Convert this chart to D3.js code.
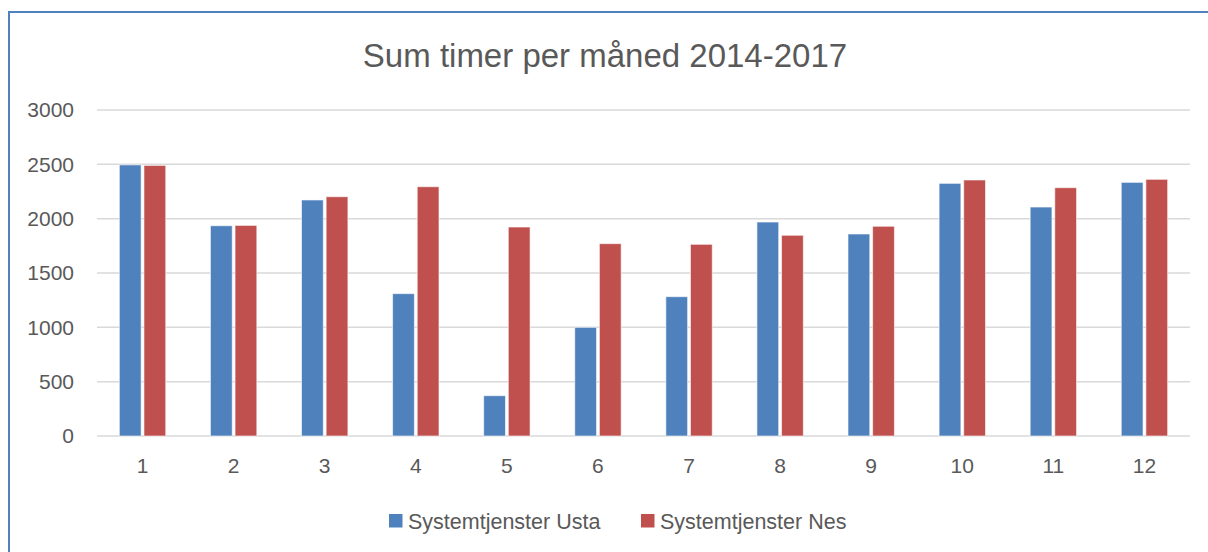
<!DOCTYPE html>
<html>
<head>
<meta charset="utf-8">
<script src="https://cdn.jsdelivr.net/npm/d3@7"></script>
<style>
  html, body { margin: 0; padding: 0; background: #fff; }
  svg { display: block; }
</style>
</head>
<body>
<div id="chart"></div>
<script>
// Data
const months = ["1", "2", "3", "4", "5", "6", "7", "8", "9", "10", "11", "12"];
const usta = [2495, 1935, 2172, 1310, 371, 1000, 1282, 1969, 1859, 2325, 2107, 2334];
const nes  = [2490, 1938, 2202, 2294, 1923, 1770, 1764, 1847, 1930, 2356, 2285, 2362];
const seriesNames = ["Systemtjenster Usta", "Systemtjenster Nes"];
const seriesColors = ["#4F81BD", "#C0504D"];
const yTicks = [0, 500, 1000, 1500, 2000, 2500, 3000];
const title = "Sum timer per måned 2014-2017";

const width = 1208;
const height = 552;
const font = "'Liberation Sans', Arial, sans-serif";
const textColor = "#595959";

const svg = d3.select("#chart").append("svg")
    .attr("width", width)
    .attr("height", height);

// outer frame (only left and top are visible in the picture)
svg.append("rect")
    .attr("x", 9).attr("y", 12)
    .attr("width", 1300).attr("height", 700)
    .attr("fill", "none")
    .attr("stroke", "#4F81BD")
    .attr("stroke-width", 2);

// ── Scales ──────────────────────────────────────────────
const x = d3.scaleBand()
    .domain(months)
    .range([97, 1190]);

const y = d3.scaleLinear()
    .domain([0, 3000])
    .range([436, 110]);

const sub = d3.scaleBand()
    .domain([0, 1])
    .range([-23.2, 23.2])
    .paddingInner(0.115);

// ── Grid ────────────────────────────────────────────────
svg.append("g")
    .selectAll("line")
    .data(yTicks)
    .join("line")
    .attr("x1", 97)
    .attr("x2", 1190)
    .attr("y1", d => y(d))
    .attr("y2", d => y(d))
    .attr("stroke", "#d9d9d9")
    .attr("stroke-width", 1.5);

// y labels
const yAxis = svg.append("g")
    .attr("transform", "translate(74,0)")
    .call(d3.axisLeft(y).tickValues(yTicks).tickFormat(d3.format("d")).tickSize(0).tickPadding(0));
yAxis.select(".domain").remove();
yAxis.selectAll("text")
    .attr("fill", textColor)
    .attr("font-family", font)
    .attr("font-size", "21px");

// x labels
const xAxis = svg.append("g")
    .attr("transform", "translate(0,436)")
    .call(d3.axisBottom(x).tickSize(0).tickPadding(22));
xAxis.select(".domain").remove();
xAxis.selectAll("text")
    .attr("fill", textColor)
    .attr("font-family", font)
    .attr("font-size", "21px");

// ── Bars ────────────────────────────────────────────────
const rows = months.map((m, i) => ({ m, vals: [usta[i], nes[i]] }));

svg.append("g")
    .selectAll("g")
    .data(rows)
    .join("g")
    .attr("transform", d => `translate(${x(d.m) + x.bandwidth() / 2},0)`)
    .selectAll("rect")
    .data(d => d.vals.map((v, k) => ({ v, k })))
    .join("rect")
    .attr("x", d => sub(d.k))
    .attr("width", sub.bandwidth())
    .attr("y", d => y(d.v))
    .attr("height", d => y(0) - y(d.v))
    .attr("fill", d => seriesColors[d.k])
    .attr("stroke", "#fff")
    .attr("stroke-opacity", 0.6)
    .attr("stroke-width", 1);

// ── Title ───────────────────────────────────────────────
svg.append("text")
    .attr("x", 605)
    .attr("y", 67)
    .attr("text-anchor", "middle")
    .attr("fill", textColor)
    .attr("font-family", font)
    .attr("font-size", "33px")
    .text(title);

// ── Legend ──────────────────────────────────────────────
const legendX = [389, 641];
const legend = svg.append("g")
    .selectAll("g")
    .data(seriesNames)
    .join("g")
    .attr("transform", (d, i) => `translate(${legendX[i]},514)`);

legend.append("rect")
    .attr("width", 13.5)
    .attr("height", 13.5)
    .attr("fill", (d, i) => seriesColors[i]);

legend.append("text")
    .attr("x", 19)
    .attr("y", 7)
    .attr("dy", "0.35em")
    .attr("fill", textColor)
    .attr("font-family", font)
    .attr("font-size", "21.5px")
    .text(d => d);
</script>
</body>
</html>
